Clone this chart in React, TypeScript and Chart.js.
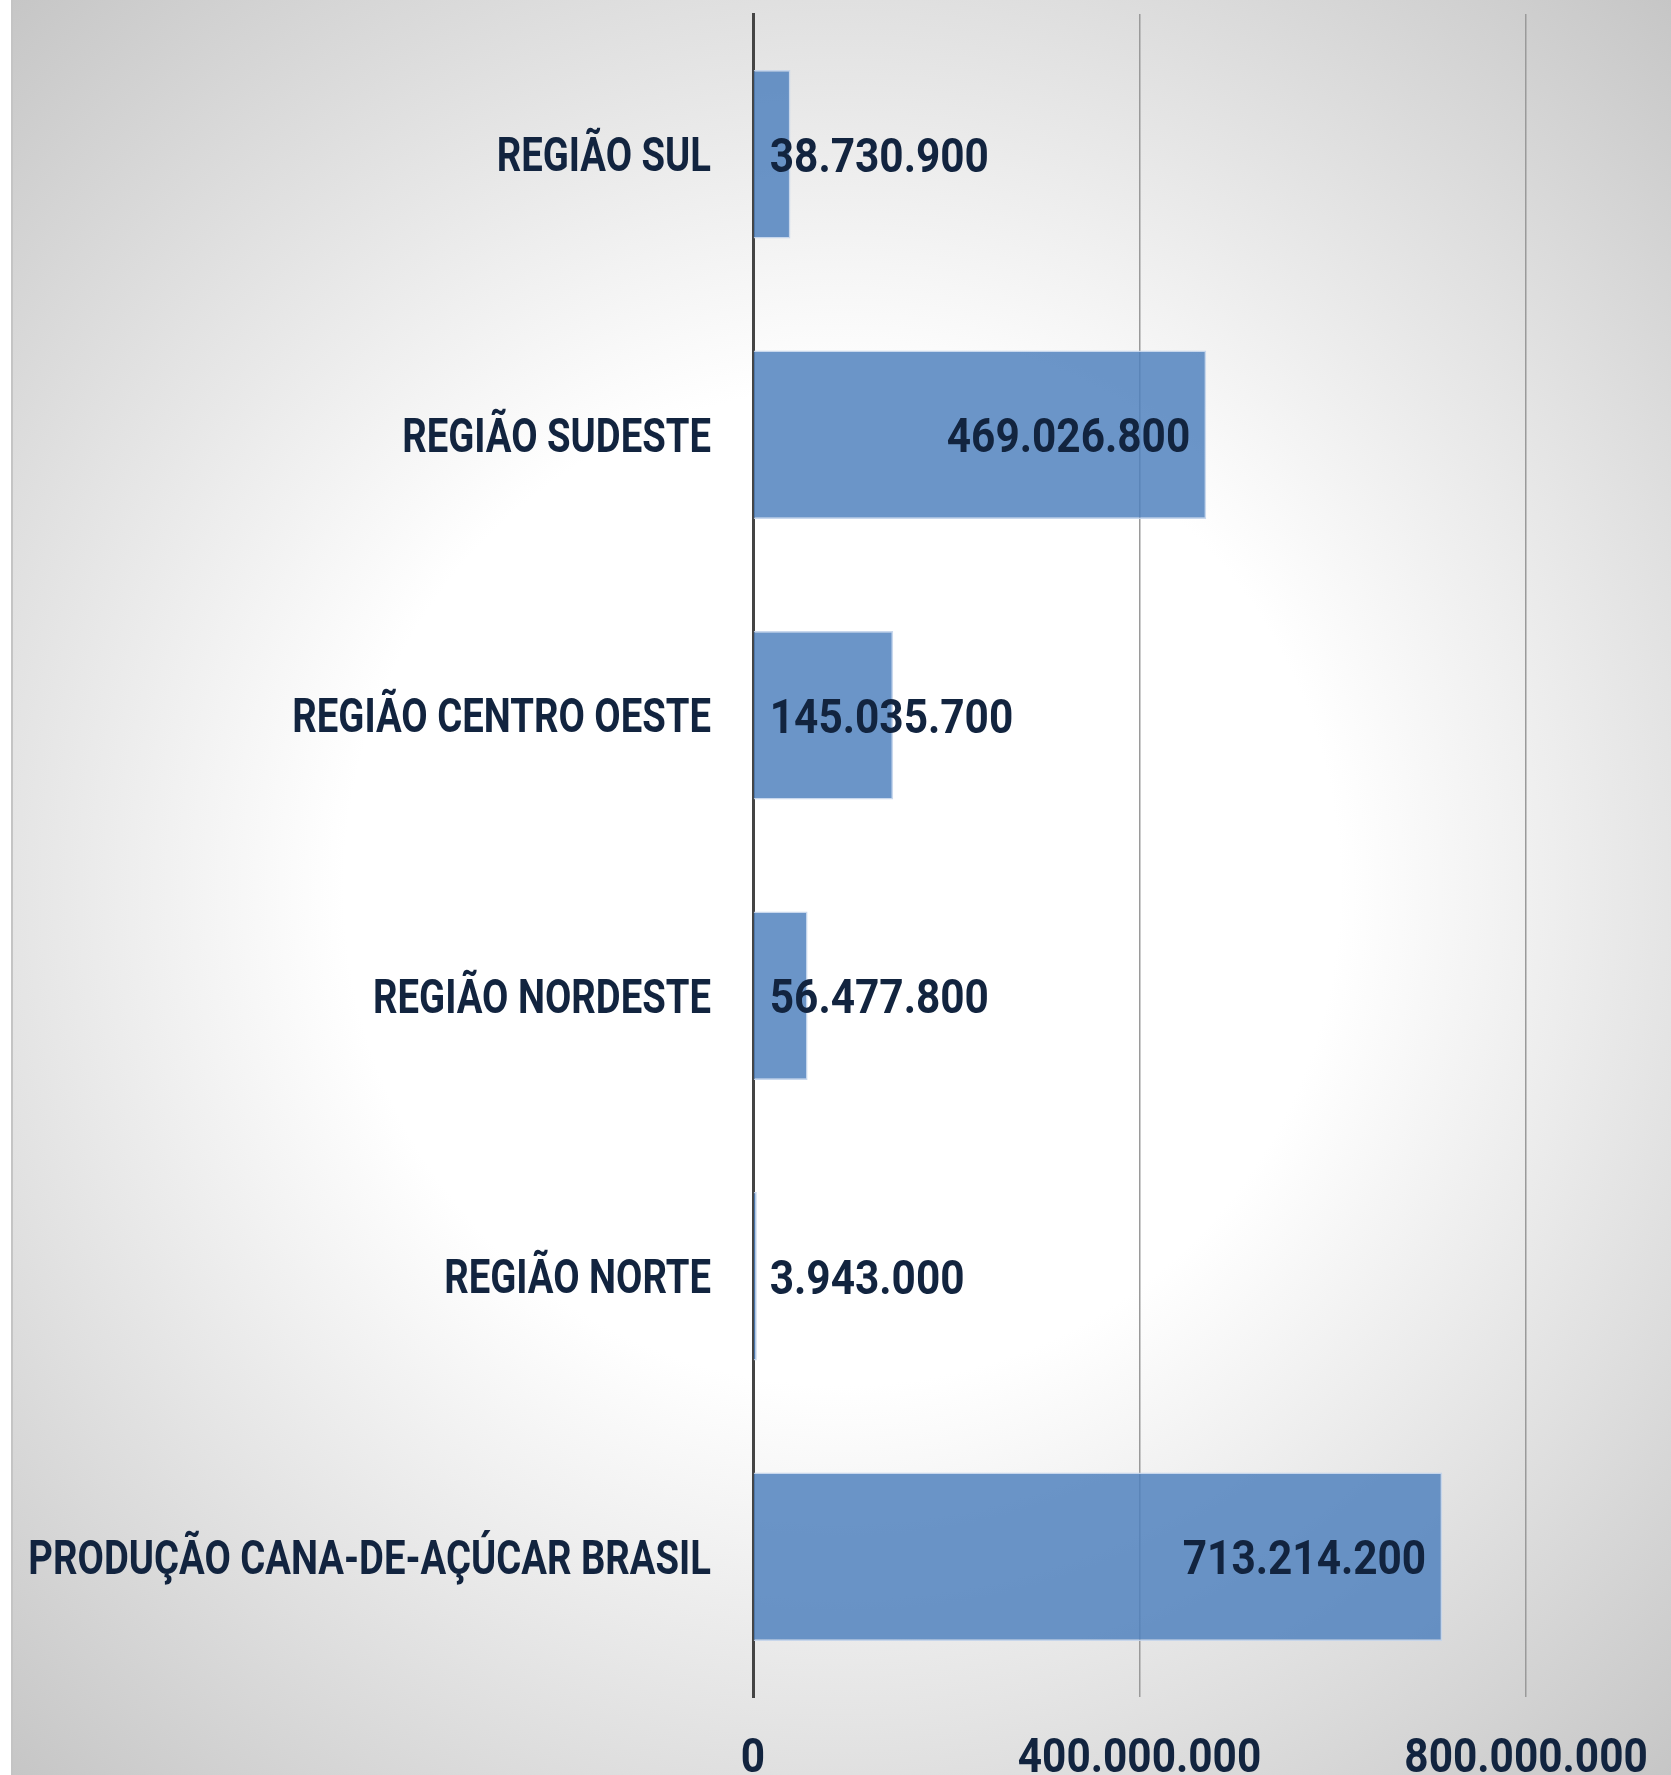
import React, { useEffect, useRef } from "react";
import { Chart, registerables } from "chart.js";

Chart.register(...registerables);

const categories = [
  "REGIÃO SUL",
  "REGIÃO SUDESTE",
  "REGIÃO CENTRO OESTE",
  "REGIÃO NORDESTE",
  "REGIÃO NORTE",
  "PRODUÇÃO CANA-DE-AÇÚCAR BRASIL",
];
const values = [38730900, 469026800, 145035700, 56477800, 3943000, 713214200];
const tickValues = [0, 400000000, 800000000];
const axisMax = 950000000;

const FONT = "Roboto, 'Liberation Sans', sans-serif";
const TEXT = "#12243f";
const LABEL_SIZE = 48;
const LABEL_SX = 0.797;
const NUM_SIZE = 49;
const NUM_SX = 0.865;

const fmt = (v: number) => v.toLocaleString("de-DE");

function drawText(ctx: any, txt: string, x: number, yCenter: number, align: "left" | "right" | "center", size: number, sx: number) {
  ctx.save();
  ctx.font = `bold ${size}px ${FONT}`;
  ctx.fillStyle = TEXT;
  ctx.textBaseline = "alphabetic";
  const w = ctx.measureText(txt).width * sx;
  let left = x;
  if (align === "right") left = x - w;
  if (align === "center") left = x - w / 2;
  ctx.translate(left, yCenter + 0.355 * size);
  ctx.scale(sx, 1);
  ctx.textAlign = "left";
  ctx.fillText(txt, 0, 0);
  ctx.restore();
  return w;
}

function textWidth(ctx: any, txt: string, size: number, sx: number) {
  ctx.save();
  ctx.font = `bold ${size}px ${FONT}`;
  const w = ctx.measureText(txt).width * sx;
  ctx.restore();
  return w;
}

const textPlugin = {
  id: "textPlugin",
  afterDatasetsDraw(chart: any) {
    const ctx = chart.ctx;
    const meta = chart.getDatasetMeta(0);
    const pad = 16;
    meta.data.forEach((bar: any, i: number) => {
      const txt = fmt(values[i]);
      const w = textWidth(ctx, txt, NUM_SIZE, NUM_SX);
      const len = bar.x - bar.base;
      if (w + 2 * pad <= len) {
        drawText(ctx, txt, bar.x - pad, bar.y, "right", NUM_SIZE, NUM_SX);
      } else {
        drawText(ctx, txt, bar.base + pad, bar.y, "left", NUM_SIZE, NUM_SX);
      }
    });
    const ys = chart.scales.y;
    const area = chart.chartArea;
    categories.forEach((c, i) => {
      const y = ys.getPixelForTick(i);
      drawText(ctx, c, area.left - 42, y, "right", LABEL_SIZE, LABEL_SX);
    });
    const xs = chart.scales.x;
    tickValues.forEach((v) => {
      const x = xs.getPixelForValue(v);
      drawText(ctx, fmt(v), x, area.bottom + 58, "center", NUM_SIZE, NUM_SX);
    });
  },
};

export default function App() {
  const ref = useRef<HTMLCanvasElement | null>(null);
  useEffect(() => {
    if (!ref.current) return;
    const chart = new Chart(ref.current, {
      type: "bar",
      data: {
        labels: categories,
        datasets: [
          {
            data: values,
            backgroundColor: "rgba(79,129,189,0.84)",
            borderColor: "rgba(195,212,235,0.9)",
            borderWidth: 1.5,
            barPercentage: 0.6,
            categoryPercentage: 1,
          },
        ],
      },
      options: {
        indexAxis: "y",
        animation: false,
        responsive: false,
        maintainAspectRatio: false,
        layout: { padding: { top: 14, left: 0, right: 0, bottom: 0 } },
        plugins: { legend: { display: false }, tooltip: { enabled: false } },
        scales: {
          x: {
            min: 0,
            max: axisMax,
            afterBuildTicks: (s: any) => {
              s.ticks = tickValues.map((v) => ({ value: v }));
            },
            afterFit: (s: any) => {
              s.height = 78;
              s.paddingLeft = 0;
              s.paddingRight = 0;
              s.paddingTop = 0;
              s.paddingBottom = 0;
            },
            grid: {
              color: (c: any) => (c.tick && c.tick.value === 0 ? "rgba(0,0,0,0)" : "#9a9a9a"),
              lineWidth: 1.5,
              drawTicks: false,
            },
            border: { display: false },
            ticks: { display: false },
          },
          y: {
            afterFit: (s: any) => {
              s.width = 740;
              s.paddingLeft = 0;
              s.paddingRight = 0;
              s.paddingTop = 0;
              s.paddingBottom = 0;
            },
            grid: { display: false, drawTicks: false },
            border: { display: true, color: "#444444", width: 3 },
            ticks: { display: false },
          },
        },
      },
      plugins: [textPlugin],
    });
    return () => chart.destroy();
  }, []);

  return (
    <div style={{ position: "absolute", left: 0, top: 0, width: 1671, height: 1775, background: "#ffffff" }}>
      <div
        style={{
          position: "absolute",
          left: 11,
          top: 0,
          width: 1660,
          height: 1775,
          borderLeft: "2px solid #c4c4c4",
          boxSizing: "border-box",
          background:
            "radial-gradient(circle farthest-corner at 50% 50%, #ffffff 0%, #ffffff 41%, #c6c6c6 100%)",
        }}
      >
        <canvas ref={ref} width={1658} height={1775} style={{ display: "block" }} />
      </div>
    </div>
  );
}
